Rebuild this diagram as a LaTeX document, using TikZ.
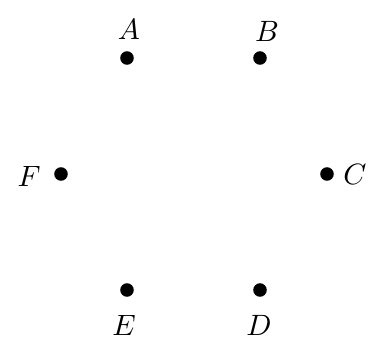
\documentclass[tikz,border=0pt]{standalone}
\begin{document}
\begin{tikzpicture}[x=0.34pt,y=-0.34pt,
  pt/.style={circle,fill=black,inner sep=0pt,minimum size=4.6pt},
  lab/.style={inner sep=0pt}]
\useasboundingbox (0,0) rectangle (388,348);
\node[pt] (A) at (127,58) {};
\node[pt] (B) at (260,58) {};
\node[pt] (C) at (327,174) {};
\node[pt] (D) at (260,290) {};
\node[pt] (E) at (127,290) {};
\node[pt] (F) at (61,174) {};
\node[lab] (lA) at (129,29) {$A$};
\node[lab] (lB) at (267,31) {$B$};
\node[lab] (lC) at (355,174) {$C$};
\node[lab] (lD) at (259,325) {$D$};
\node[lab] (lE) at (124,325) {$E$};
\node[lab] (lF) at (29,176) {$F$};
\end{tikzpicture}
\end{document}
